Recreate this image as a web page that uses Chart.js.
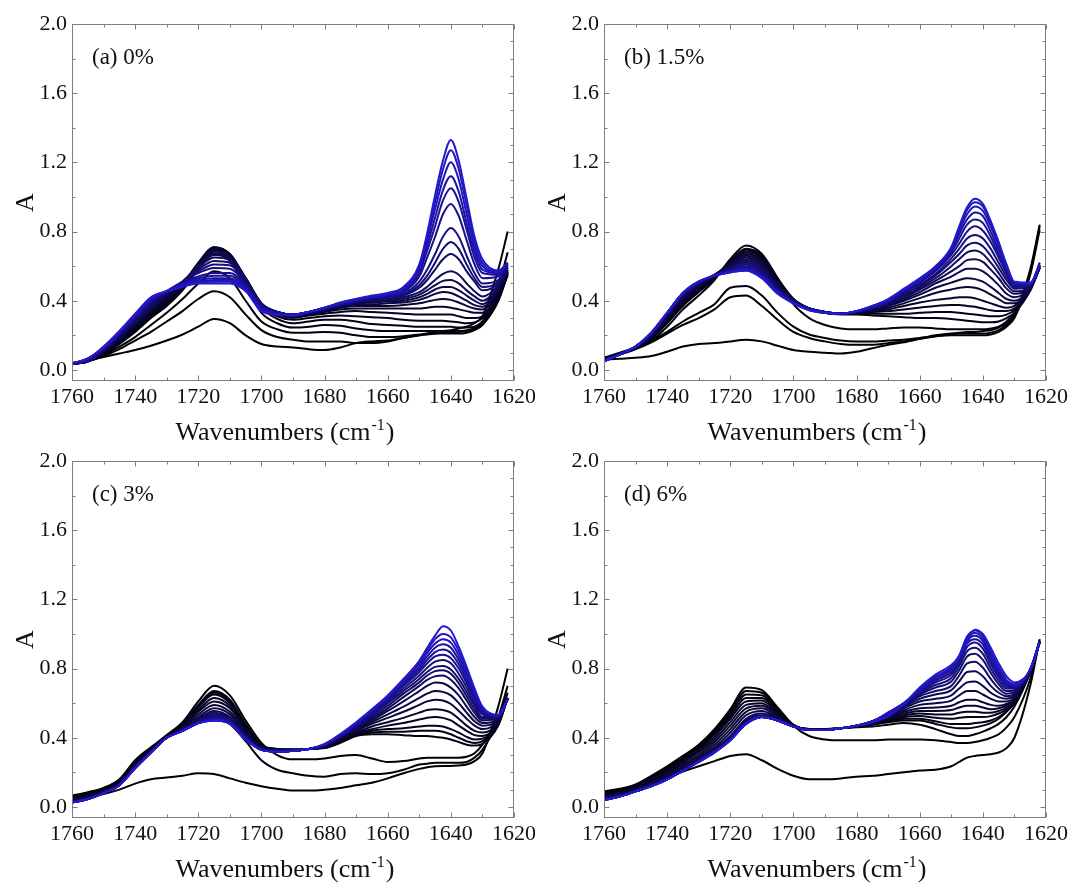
<!DOCTYPE html>
<html><head><meta charset="utf-8">
<script src="https://cdn.jsdelivr.net/npm/chart.js@4.4.1/dist/chart.umd.min.js"></script>
<style>
html,body{margin:0;padding:0;background:#fff;}
body{width:1071px;height:889px;position:relative;overflow:hidden;}
canvas{position:absolute;}
</style></head><body>
<canvas id="pa" width="535" height="445" style="left:0;top:0"></canvas>
<canvas id="pb" width="539" height="445" style="left:532px;top:0"></canvas>
<canvas id="pc" width="535" height="452" style="left:0;top:437px"></canvas>
<canvas id="pd" width="539" height="452" style="left:532px;top:437px"></canvas>
<script>
// ---- data ----
const wavenumbers = [1760,1755,1750,1745,1740,1735,1730,1725,1720,1715,1710,1705,1700,1695,1690,1685,1680,1675,1670,1665,1660,1655,1650,1647.5,1645,1642.5,1640,1637.5,1635,1632.5,1630,1625,1622];
const xTicks = [1760,1740,1720,1700,1680,1660,1640,1620];
const yTicks = [0,0.4,0.8,1.2,1.6,2.0];
const panelLabels = ['(a) 0%','(b) 1.5%','(c) 3%','(d) 6%'];

const spectraA = [
[0.04,0.055,0.075,0.095,0.115,0.14,0.17,0.205,0.25,0.295,0.27,0.20,0.15,0.135,0.13,0.12,0.115,0.13,0.155,0.165,0.17,0.185,0.20,0.21,0.22,0.225,0.23,0.24,0.25,0.27,0.31,0.58,0.80],
[0.035,0.05,0.08,0.12,0.17,0.22,0.28,0.34,0.41,0.455,0.42,0.32,0.23,0.19,0.175,0.165,0.165,0.165,0.155,0.155,0.165,0.185,0.20,0.205,0.21,0.215,0.215,0.22,0.225,0.24,0.28,0.48,0.68],
[0.035,0.05,0.085,0.135,0.19,0.26,0.33,0.41,0.50,0.57,0.53,0.40,0.28,0.235,0.215,0.215,0.22,0.215,0.20,0.19,0.19,0.195,0.205,0.21,0.21,0.21,0.21,0.21,0.215,0.23,0.26,0.40,0.57],
[0.035,0.05,0.09,0.15,0.22,0.30,0.37,0.46,0.58,0.67,0.63,0.48,0.33,0.27,0.245,0.25,0.26,0.255,0.24,0.23,0.225,0.225,0.225,0.225,0.225,0.225,0.225,0.225,0.23,0.24,0.27,0.40,0.55],
[0.035,0.05,0.09,0.155,0.23,0.31,0.38,0.47,0.60,0.70,0.66,0.51,0.36,0.295,0.27,0.28,0.29,0.29,0.28,0.265,0.26,0.255,0.25,0.25,0.25,0.25,0.25,0.245,0.245,0.25,0.28,0.41,0.55],
[0.035,0.05,0.095,0.16,0.235,0.32,0.39,0.48,0.61,0.71,0.67,0.52,0.37,0.31,0.29,0.30,0.31,0.315,0.31,0.305,0.30,0.29,0.285,0.285,0.285,0.285,0.28,0.275,0.27,0.275,0.30,0.42,0.56],
[0.035,0.05,0.10,0.165,0.245,0.33,0.40,0.49,0.62,0.71,0.67,0.53,0.38,0.32,0.30,0.315,0.325,0.335,0.34,0.335,0.33,0.325,0.32,0.32,0.32,0.32,0.32,0.31,0.30,0.30,0.31,0.43,0.56],
[0.035,0.05,0.10,0.17,0.25,0.335,0.41,0.495,0.615,0.70,0.665,0.53,0.38,0.325,0.305,0.32,0.335,0.35,0.355,0.355,0.355,0.355,0.355,0.36,0.365,0.365,0.36,0.35,0.34,0.33,0.33,0.44,0.56],
[0.035,0.05,0.105,0.175,0.26,0.345,0.42,0.50,0.61,0.69,0.66,0.53,0.38,0.33,0.31,0.325,0.34,0.36,0.37,0.37,0.37,0.375,0.385,0.395,0.405,0.41,0.405,0.39,0.37,0.355,0.35,0.45,0.57],
[0.035,0.05,0.105,0.18,0.265,0.35,0.425,0.50,0.605,0.685,0.655,0.53,0.385,0.335,0.315,0.33,0.345,0.365,0.38,0.38,0.385,0.39,0.405,0.42,0.44,0.45,0.445,0.425,0.40,0.375,0.365,0.46,0.57],
[0.035,0.05,0.11,0.185,0.27,0.355,0.43,0.505,0.60,0.675,0.65,0.53,0.385,0.335,0.315,0.33,0.35,0.37,0.385,0.39,0.395,0.40,0.42,0.44,0.465,0.48,0.48,0.46,0.43,0.40,0.38,0.47,0.58],
[0.035,0.05,0.11,0.19,0.275,0.36,0.435,0.51,0.595,0.665,0.645,0.525,0.385,0.335,0.32,0.335,0.355,0.375,0.39,0.395,0.40,0.41,0.435,0.46,0.49,0.515,0.52,0.50,0.46,0.425,0.40,0.48,0.58],
[0.035,0.05,0.115,0.195,0.28,0.37,0.44,0.51,0.59,0.65,0.635,0.52,0.38,0.335,0.32,0.335,0.355,0.375,0.39,0.40,0.405,0.42,0.45,0.48,0.52,0.555,0.57,0.55,0.50,0.455,0.425,0.49,0.59],
[0.035,0.05,0.115,0.20,0.29,0.38,0.445,0.51,0.58,0.63,0.62,0.515,0.38,0.335,0.32,0.335,0.355,0.375,0.395,0.405,0.415,0.43,0.475,0.52,0.58,0.64,0.67,0.64,0.57,0.51,0.46,0.50,0.59],
[0.035,0.05,0.12,0.205,0.295,0.385,0.45,0.51,0.57,0.61,0.605,0.51,0.375,0.335,0.32,0.335,0.355,0.375,0.395,0.41,0.42,0.435,0.49,0.545,0.62,0.70,0.74,0.70,0.61,0.53,0.48,0.51,0.60],
[0.035,0.055,0.12,0.205,0.30,0.39,0.455,0.51,0.56,0.59,0.585,0.50,0.37,0.335,0.32,0.335,0.355,0.38,0.40,0.415,0.425,0.44,0.51,0.58,0.67,0.77,0.82,0.77,0.66,0.56,0.50,0.52,0.60],
[0.035,0.065,0.12,0.21,0.30,0.395,0.455,0.50,0.54,0.56,0.56,0.49,0.365,0.33,0.32,0.335,0.355,0.38,0.40,0.42,0.43,0.45,0.54,0.65,0.77,0.90,0.96,0.89,0.75,0.61,0.53,0.54,0.61],
[0.035,0.065,0.125,0.215,0.305,0.40,0.455,0.50,0.53,0.545,0.545,0.48,0.36,0.33,0.32,0.335,0.36,0.38,0.40,0.42,0.43,0.455,0.56,0.69,0.83,0.98,1.05,0.97,0.81,0.65,0.56,0.55,0.61],
[0.035,0.065,0.125,0.215,0.31,0.405,0.455,0.495,0.52,0.53,0.53,0.47,0.355,0.325,0.32,0.335,0.36,0.385,0.405,0.42,0.435,0.46,0.575,0.72,0.88,1.04,1.12,1.03,0.85,0.68,0.58,0.56,0.61],
[0.035,0.065,0.13,0.22,0.315,0.41,0.455,0.49,0.51,0.52,0.52,0.465,0.35,0.325,0.32,0.335,0.36,0.385,0.405,0.425,0.44,0.465,0.59,0.75,0.93,1.10,1.20,1.10,0.90,0.71,0.60,0.565,0.615],
[0.035,0.065,0.13,0.22,0.32,0.415,0.455,0.485,0.505,0.51,0.51,0.46,0.345,0.32,0.315,0.335,0.36,0.385,0.41,0.425,0.44,0.47,0.60,0.77,0.97,1.16,1.27,1.16,0.95,0.74,0.62,0.57,0.62],
[0.04,0.065,0.135,0.225,0.325,0.42,0.455,0.48,0.50,0.50,0.50,0.455,0.34,0.32,0.315,0.335,0.36,0.39,0.41,0.43,0.445,0.48,0.61,0.79,1.01,1.21,1.33,1.21,0.99,0.77,0.64,0.575,0.62]
];

const spectraB = [
[0.06,0.065,0.07,0.08,0.105,0.135,0.15,0.155,0.165,0.175,0.165,0.14,0.115,0.105,0.10,0.095,0.105,0.125,0.145,0.16,0.18,0.20,0.21,0.215,0.22,0.22,0.225,0.23,0.245,0.27,0.32,0.58,0.84],
[0.06,0.09,0.12,0.16,0.21,0.26,0.30,0.35,0.42,0.43,0.37,0.29,0.22,0.185,0.165,0.15,0.145,0.145,0.155,0.165,0.18,0.195,0.205,0.21,0.21,0.21,0.21,0.215,0.23,0.26,0.31,0.56,0.83],
[0.07,0.10,0.13,0.17,0.22,0.28,0.33,0.38,0.475,0.485,0.43,0.33,0.25,0.205,0.185,0.17,0.165,0.165,0.17,0.175,0.185,0.195,0.20,0.20,0.20,0.20,0.20,0.205,0.22,0.25,0.30,0.55,0.81],
[0.07,0.09,0.12,0.17,0.25,0.35,0.43,0.52,0.64,0.72,0.67,0.53,0.38,0.30,0.26,0.24,0.235,0.235,0.24,0.245,0.245,0.24,0.235,0.235,0.235,0.235,0.235,0.24,0.25,0.28,0.33,0.47,0.62],
[0.07,0.09,0.125,0.18,0.27,0.37,0.45,0.53,0.63,0.70,0.66,0.53,0.41,0.355,0.33,0.32,0.32,0.315,0.31,0.305,0.30,0.30,0.295,0.29,0.285,0.28,0.275,0.275,0.28,0.30,0.33,0.46,0.60],
[0.065,0.09,0.125,0.185,0.28,0.38,0.46,0.535,0.625,0.69,0.65,0.525,0.41,0.355,0.33,0.325,0.325,0.325,0.325,0.325,0.33,0.335,0.335,0.33,0.325,0.32,0.315,0.31,0.31,0.32,0.345,0.46,0.60],
[0.065,0.09,0.13,0.19,0.285,0.39,0.465,0.54,0.62,0.68,0.64,0.52,0.405,0.355,0.33,0.325,0.33,0.335,0.34,0.35,0.36,0.37,0.375,0.375,0.37,0.365,0.355,0.345,0.34,0.34,0.355,0.46,0.59],
[0.06,0.09,0.13,0.195,0.295,0.40,0.475,0.545,0.615,0.67,0.63,0.51,0.405,0.355,0.33,0.325,0.33,0.34,0.35,0.37,0.39,0.405,0.415,0.42,0.42,0.415,0.40,0.385,0.37,0.36,0.37,0.465,0.59],
[0.06,0.09,0.13,0.20,0.30,0.41,0.48,0.55,0.61,0.66,0.62,0.50,0.40,0.355,0.33,0.325,0.335,0.345,0.36,0.385,0.415,0.445,0.465,0.475,0.48,0.475,0.46,0.435,0.41,0.385,0.385,0.47,0.59],
[0.06,0.09,0.13,0.20,0.305,0.415,0.485,0.55,0.605,0.65,0.61,0.495,0.40,0.355,0.335,0.325,0.335,0.35,0.37,0.40,0.435,0.475,0.505,0.52,0.53,0.525,0.51,0.48,0.445,0.41,0.40,0.47,0.59],
[0.055,0.09,0.13,0.205,0.31,0.42,0.49,0.55,0.60,0.64,0.60,0.49,0.40,0.355,0.335,0.325,0.335,0.355,0.375,0.41,0.45,0.50,0.54,0.565,0.585,0.585,0.57,0.535,0.49,0.44,0.42,0.475,0.59],
[0.055,0.09,0.135,0.205,0.315,0.425,0.495,0.55,0.595,0.63,0.59,0.48,0.395,0.355,0.335,0.325,0.335,0.355,0.38,0.42,0.465,0.515,0.57,0.60,0.635,0.64,0.625,0.58,0.53,0.47,0.44,0.48,0.59],
[0.055,0.09,0.135,0.21,0.32,0.43,0.50,0.55,0.59,0.62,0.58,0.475,0.395,0.355,0.335,0.325,0.335,0.36,0.385,0.43,0.475,0.53,0.60,0.64,0.68,0.69,0.67,0.62,0.56,0.495,0.455,0.48,0.59],
[0.055,0.09,0.135,0.21,0.32,0.435,0.50,0.55,0.585,0.61,0.57,0.47,0.395,0.355,0.335,0.325,0.335,0.36,0.39,0.44,0.485,0.545,0.625,0.67,0.72,0.735,0.715,0.66,0.59,0.52,0.47,0.485,0.595],
[0.05,0.09,0.135,0.21,0.325,0.44,0.505,0.545,0.58,0.60,0.56,0.465,0.39,0.35,0.335,0.325,0.335,0.36,0.39,0.45,0.495,0.555,0.645,0.70,0.76,0.78,0.76,0.70,0.62,0.54,0.48,0.49,0.60],
[0.05,0.09,0.135,0.21,0.325,0.44,0.505,0.545,0.575,0.595,0.555,0.46,0.39,0.35,0.335,0.325,0.335,0.365,0.395,0.455,0.505,0.57,0.665,0.73,0.80,0.83,0.805,0.74,0.65,0.56,0.49,0.49,0.60],
[0.05,0.09,0.135,0.215,0.33,0.445,0.51,0.545,0.57,0.59,0.55,0.455,0.39,0.35,0.33,0.325,0.34,0.365,0.40,0.46,0.51,0.58,0.68,0.76,0.84,0.87,0.85,0.77,0.67,0.575,0.495,0.495,0.60],
[0.05,0.09,0.135,0.215,0.33,0.445,0.51,0.545,0.57,0.585,0.545,0.45,0.39,0.35,0.33,0.325,0.34,0.365,0.40,0.46,0.515,0.585,0.69,0.785,0.87,0.91,0.89,0.80,0.695,0.59,0.50,0.50,0.605],
[0.05,0.09,0.135,0.215,0.33,0.445,0.51,0.545,0.565,0.58,0.54,0.45,0.385,0.35,0.33,0.325,0.34,0.37,0.405,0.465,0.52,0.59,0.70,0.805,0.90,0.945,0.92,0.83,0.715,0.60,0.505,0.50,0.605],
[0.05,0.09,0.135,0.215,0.33,0.445,0.51,0.545,0.565,0.575,0.535,0.445,0.385,0.345,0.33,0.325,0.34,0.37,0.405,0.465,0.525,0.595,0.705,0.82,0.925,0.97,0.945,0.85,0.73,0.605,0.505,0.50,0.61],
[0.05,0.09,0.135,0.215,0.33,0.445,0.51,0.545,0.565,0.575,0.53,0.44,0.385,0.345,0.33,0.325,0.34,0.37,0.41,0.47,0.53,0.60,0.71,0.83,0.94,0.99,0.96,0.86,0.74,0.61,0.51,0.505,0.61]
];

const spectraC = [
[0.045,0.06,0.075,0.10,0.135,0.16,0.17,0.18,0.195,0.19,0.165,0.14,0.12,0.105,0.095,0.095,0.10,0.11,0.125,0.14,0.165,0.195,0.22,0.23,0.235,0.237,0.237,0.24,0.245,0.265,0.31,0.58,0.80],
[0.065,0.085,0.11,0.16,0.27,0.345,0.415,0.49,0.61,0.70,0.645,0.50,0.37,0.30,0.275,0.275,0.28,0.295,0.30,0.28,0.26,0.265,0.28,0.285,0.285,0.285,0.285,0.285,0.29,0.31,0.36,0.52,0.70],
[0.06,0.08,0.105,0.15,0.255,0.33,0.40,0.45,0.49,0.52,0.48,0.38,0.27,0.215,0.195,0.18,0.175,0.19,0.195,0.19,0.195,0.215,0.245,0.25,0.255,0.255,0.255,0.255,0.26,0.285,0.33,0.50,0.66],
[0.06,0.08,0.105,0.155,0.26,0.34,0.41,0.48,0.59,0.67,0.62,0.48,0.36,0.335,0.33,0.335,0.34,0.37,0.41,0.42,0.42,0.415,0.41,0.41,0.405,0.40,0.39,0.375,0.36,0.355,0.365,0.47,0.63],
[0.055,0.075,0.10,0.15,0.255,0.335,0.405,0.475,0.58,0.66,0.61,0.47,0.355,0.335,0.33,0.335,0.345,0.375,0.415,0.43,0.435,0.435,0.44,0.44,0.44,0.435,0.42,0.40,0.38,0.37,0.38,0.475,0.63],
[0.05,0.07,0.10,0.145,0.25,0.33,0.405,0.47,0.575,0.65,0.60,0.465,0.35,0.335,0.33,0.335,0.345,0.38,0.42,0.44,0.45,0.455,0.465,0.47,0.47,0.465,0.45,0.43,0.405,0.39,0.395,0.48,0.63],
[0.045,0.065,0.095,0.14,0.245,0.33,0.40,0.465,0.56,0.63,0.585,0.455,0.345,0.33,0.33,0.335,0.345,0.385,0.425,0.45,0.47,0.485,0.505,0.515,0.52,0.515,0.50,0.47,0.44,0.415,0.41,0.485,0.63],
[0.04,0.06,0.09,0.14,0.24,0.325,0.40,0.46,0.55,0.61,0.57,0.445,0.345,0.33,0.33,0.335,0.35,0.39,0.43,0.465,0.49,0.515,0.545,0.56,0.565,0.56,0.545,0.51,0.47,0.44,0.43,0.49,0.63],
[0.035,0.055,0.09,0.135,0.24,0.325,0.40,0.455,0.535,0.59,0.55,0.435,0.34,0.33,0.33,0.335,0.35,0.395,0.44,0.48,0.515,0.55,0.59,0.61,0.62,0.615,0.595,0.555,0.51,0.47,0.45,0.50,0.63],
[0.035,0.055,0.085,0.135,0.235,0.32,0.40,0.45,0.52,0.57,0.535,0.425,0.34,0.33,0.33,0.335,0.35,0.40,0.445,0.49,0.535,0.58,0.63,0.655,0.67,0.665,0.645,0.60,0.545,0.495,0.47,0.505,0.625],
[0.03,0.05,0.085,0.13,0.235,0.32,0.40,0.45,0.51,0.555,0.52,0.42,0.335,0.325,0.325,0.335,0.355,0.40,0.45,0.50,0.555,0.61,0.67,0.70,0.72,0.715,0.69,0.645,0.58,0.52,0.485,0.51,0.625],
[0.03,0.05,0.08,0.13,0.23,0.32,0.40,0.445,0.50,0.545,0.51,0.41,0.335,0.325,0.325,0.335,0.355,0.405,0.455,0.51,0.57,0.635,0.70,0.735,0.755,0.76,0.735,0.685,0.615,0.545,0.50,0.515,0.625],
[0.03,0.05,0.08,0.13,0.23,0.315,0.40,0.445,0.495,0.535,0.505,0.41,0.335,0.325,0.325,0.335,0.355,0.405,0.46,0.52,0.585,0.655,0.72,0.76,0.785,0.79,0.77,0.715,0.64,0.565,0.51,0.515,0.625],
[0.025,0.045,0.08,0.125,0.23,0.315,0.40,0.44,0.49,0.525,0.50,0.405,0.33,0.32,0.325,0.335,0.36,0.41,0.465,0.53,0.60,0.67,0.74,0.78,0.81,0.815,0.795,0.74,0.665,0.585,0.52,0.52,0.625],
[0.025,0.045,0.08,0.125,0.225,0.315,0.40,0.44,0.485,0.52,0.495,0.40,0.33,0.32,0.325,0.335,0.36,0.41,0.47,0.54,0.61,0.685,0.76,0.805,0.84,0.85,0.83,0.77,0.69,0.60,0.535,0.52,0.625],
[0.025,0.045,0.08,0.125,0.225,0.315,0.40,0.44,0.485,0.515,0.49,0.40,0.33,0.32,0.325,0.335,0.36,0.41,0.475,0.545,0.62,0.70,0.78,0.83,0.87,0.88,0.86,0.80,0.715,0.62,0.545,0.525,0.625],
[0.025,0.045,0.08,0.125,0.225,0.315,0.40,0.44,0.485,0.51,0.49,0.395,0.33,0.32,0.325,0.335,0.36,0.415,0.48,0.55,0.625,0.71,0.795,0.85,0.895,0.91,0.89,0.825,0.735,0.635,0.555,0.525,0.625],
[0.025,0.045,0.08,0.125,0.225,0.315,0.40,0.44,0.485,0.505,0.485,0.395,0.33,0.32,0.325,0.335,0.36,0.415,0.48,0.555,0.63,0.72,0.81,0.87,0.92,0.94,0.92,0.85,0.755,0.65,0.565,0.53,0.625],
[0.025,0.045,0.08,0.125,0.225,0.315,0.40,0.44,0.485,0.50,0.485,0.39,0.33,0.32,0.325,0.335,0.36,0.42,0.485,0.56,0.635,0.73,0.825,0.89,0.945,0.97,0.95,0.875,0.77,0.66,0.57,0.53,0.625],
[0.025,0.045,0.08,0.125,0.225,0.315,0.40,0.44,0.485,0.50,0.48,0.39,0.33,0.32,0.325,0.335,0.36,0.42,0.485,0.56,0.64,0.735,0.835,0.905,0.97,1.00,0.98,0.90,0.79,0.67,0.575,0.53,0.62],
[0.025,0.045,0.08,0.125,0.225,0.315,0.40,0.44,0.485,0.50,0.48,0.39,0.33,0.32,0.325,0.335,0.365,0.42,0.49,0.565,0.645,0.74,0.845,0.92,0.99,1.045,1.02,0.925,0.81,0.685,0.58,0.53,0.62]
];

const spectraD = [
[0.065,0.08,0.10,0.13,0.17,0.205,0.235,0.265,0.295,0.305,0.27,0.22,0.18,0.16,0.16,0.165,0.175,0.18,0.19,0.20,0.21,0.215,0.235,0.26,0.285,0.295,0.30,0.305,0.315,0.34,0.40,0.70,0.97],
[0.09,0.105,0.13,0.18,0.235,0.295,0.36,0.45,0.565,0.69,0.675,0.575,0.47,0.41,0.39,0.385,0.385,0.385,0.39,0.39,0.39,0.385,0.375,0.37,0.37,0.375,0.385,0.40,0.42,0.46,0.52,0.74,0.96],
[0.085,0.10,0.125,0.175,0.23,0.29,0.35,0.44,0.55,0.67,0.66,0.57,0.475,0.45,0.45,0.455,0.46,0.465,0.475,0.485,0.475,0.45,0.42,0.41,0.41,0.42,0.435,0.455,0.48,0.52,0.58,0.78,0.96],
[0.085,0.10,0.125,0.17,0.225,0.285,0.345,0.43,0.54,0.65,0.645,0.565,0.475,0.45,0.45,0.455,0.465,0.475,0.49,0.50,0.50,0.48,0.46,0.455,0.455,0.46,0.47,0.485,0.51,0.55,0.60,0.78,0.96],
[0.08,0.095,0.12,0.165,0.215,0.275,0.335,0.42,0.525,0.63,0.63,0.555,0.47,0.45,0.45,0.455,0.465,0.48,0.495,0.51,0.51,0.495,0.48,0.48,0.48,0.485,0.49,0.50,0.52,0.555,0.605,0.78,0.96],
[0.075,0.09,0.115,0.155,0.205,0.265,0.325,0.405,0.51,0.61,0.615,0.545,0.47,0.45,0.45,0.455,0.465,0.48,0.50,0.52,0.525,0.515,0.51,0.515,0.52,0.52,0.52,0.525,0.54,0.565,0.61,0.78,0.96],
[0.07,0.085,0.11,0.15,0.195,0.255,0.315,0.39,0.49,0.59,0.60,0.535,0.47,0.45,0.45,0.455,0.465,0.48,0.505,0.53,0.54,0.535,0.535,0.545,0.55,0.55,0.545,0.545,0.555,0.575,0.615,0.785,0.96],
[0.065,0.08,0.105,0.145,0.19,0.245,0.30,0.375,0.47,0.57,0.585,0.53,0.47,0.45,0.45,0.455,0.465,0.485,0.51,0.54,0.555,0.555,0.56,0.575,0.585,0.585,0.575,0.565,0.57,0.585,0.62,0.785,0.96],
[0.06,0.075,0.10,0.14,0.18,0.235,0.29,0.36,0.45,0.55,0.57,0.52,0.465,0.45,0.45,0.455,0.465,0.485,0.515,0.55,0.57,0.575,0.585,0.605,0.62,0.62,0.605,0.59,0.585,0.595,0.625,0.785,0.96],
[0.055,0.07,0.10,0.135,0.175,0.225,0.28,0.345,0.43,0.53,0.555,0.515,0.465,0.445,0.45,0.455,0.47,0.49,0.52,0.56,0.59,0.60,0.615,0.645,0.67,0.67,0.65,0.625,0.61,0.61,0.635,0.785,0.955],
[0.05,0.07,0.095,0.13,0.17,0.22,0.275,0.335,0.41,0.51,0.54,0.51,0.465,0.445,0.445,0.455,0.47,0.49,0.525,0.57,0.61,0.625,0.645,0.685,0.72,0.725,0.70,0.66,0.635,0.625,0.645,0.79,0.955],
[0.045,0.065,0.095,0.125,0.165,0.215,0.27,0.325,0.40,0.50,0.53,0.505,0.465,0.445,0.445,0.455,0.47,0.49,0.53,0.58,0.625,0.65,0.675,0.725,0.78,0.785,0.755,0.70,0.66,0.64,0.655,0.79,0.955],
[0.045,0.065,0.09,0.12,0.16,0.21,0.265,0.32,0.39,0.49,0.525,0.50,0.465,0.445,0.445,0.455,0.47,0.495,0.535,0.585,0.64,0.67,0.70,0.76,0.83,0.84,0.805,0.74,0.685,0.655,0.665,0.79,0.955],
[0.045,0.065,0.09,0.12,0.16,0.21,0.265,0.32,0.39,0.49,0.525,0.50,0.465,0.445,0.445,0.455,0.47,0.495,0.535,0.59,0.65,0.69,0.725,0.79,0.87,0.885,0.85,0.775,0.71,0.67,0.675,0.795,0.955],
[0.045,0.06,0.09,0.12,0.16,0.21,0.265,0.32,0.39,0.485,0.52,0.50,0.465,0.445,0.445,0.455,0.47,0.495,0.54,0.59,0.66,0.705,0.745,0.815,0.90,0.92,0.885,0.80,0.73,0.685,0.685,0.795,0.955],
[0.04,0.06,0.09,0.12,0.16,0.21,0.265,0.32,0.39,0.485,0.52,0.50,0.465,0.445,0.445,0.455,0.47,0.495,0.54,0.595,0.665,0.72,0.765,0.835,0.925,0.95,0.915,0.825,0.75,0.695,0.69,0.795,0.955],
[0.04,0.06,0.09,0.12,0.16,0.21,0.265,0.32,0.39,0.485,0.52,0.50,0.465,0.445,0.445,0.455,0.47,0.495,0.54,0.595,0.67,0.73,0.78,0.85,0.945,0.97,0.94,0.845,0.765,0.705,0.695,0.795,0.955],
[0.04,0.06,0.09,0.12,0.16,0.21,0.26,0.315,0.385,0.48,0.52,0.50,0.465,0.445,0.445,0.455,0.47,0.495,0.545,0.60,0.675,0.74,0.795,0.86,0.96,0.99,0.96,0.865,0.78,0.715,0.70,0.795,0.95],
[0.04,0.06,0.09,0.12,0.16,0.21,0.26,0.315,0.385,0.48,0.52,0.50,0.465,0.445,0.445,0.455,0.47,0.495,0.545,0.60,0.68,0.75,0.805,0.87,0.975,1.005,0.975,0.885,0.795,0.725,0.705,0.79,0.95],
[0.04,0.06,0.09,0.12,0.16,0.21,0.26,0.315,0.385,0.48,0.52,0.50,0.465,0.445,0.445,0.455,0.47,0.495,0.545,0.60,0.685,0.755,0.81,0.875,0.985,1.02,0.99,0.90,0.81,0.735,0.71,0.79,0.95],
[0.04,0.06,0.09,0.12,0.16,0.21,0.26,0.315,0.385,0.48,0.52,0.50,0.465,0.445,0.445,0.455,0.47,0.49,0.525,0.595,0.69,0.765,0.82,0.87,0.95,1.025,1.00,0.92,0.83,0.755,0.72,0.79,0.95]
];

// ---- drawing ----
const SERIF = '"Liberation Serif", "Times New Roman", serif';
function curveColor(k, n) {
  const t = Math.pow(k / (n - 1), 1.4);
  return 'rgb(' + Math.round(36 * t) + ',' + Math.round(24 * t) + ',' + Math.round(205 * t) + ')';
}

const decoPlugin = {
  id: 'deco',
  afterDraw(chart, args, opts) {
    const ctx = chart.ctx, ca = chart.chartArea, xs = chart.scales.x, ys = chart.scales.y;
    ctx.save();
    const L = Math.round(ca.left) + 0.5, R = Math.round(ca.right) - 0.5;
    const T = Math.round(ca.top) + 0.5, B = Math.round(ca.bottom) - 0.5;
    ctx.strokeStyle = '#7d7d7d';
    ctx.lineWidth = 1;
    ctx.strokeRect(L, T, R - L, B - T);
    ctx.beginPath();
    for (let i = 0; i < xTicks.length; i++) {
      const w0 = xTicks[i];
      const px = Math.round(xs.getPixelForValue(w0)) + 0.5;
      ctx.moveTo(px, B); ctx.lineTo(px, B - 5);
      ctx.moveTo(px, T); ctx.lineTo(px, T + 5);
      if (i < xTicks.length - 1) {
        const pm = Math.round(xs.getPixelForValue((w0 + xTicks[i + 1]) / 2)) + 0.5;
        ctx.moveTo(pm, B); ctx.lineTo(pm, B - 3);
        ctx.moveTo(pm, T); ctx.lineTo(pm, T + 3);
      }
    }
    for (let i = 0; i < yTicks.length; i++) {
      const v0 = yTicks[i];
      const py = Math.round(ys.getPixelForValue(v0)) + 0.5;
      ctx.moveTo(L, py); ctx.lineTo(L + 5, py);
      ctx.moveTo(R, py); ctx.lineTo(R - 5, py);
      if (i < yTicks.length - 1) {
        const step = (yTicks[i + 1] - v0) / 4;
        for (let j = 1; j < 4; j++) {
          const pm = Math.round(ys.getPixelForValue(v0 + step * j)) + 0.5;
          if (j === 2) { ctx.moveTo(L, pm); ctx.lineTo(L + 3, pm); }
          ctx.moveTo(R, pm); ctx.lineTo(R - 3, pm);
        }
      }
    }
    ctx.stroke();

    ctx.fillStyle = '#111';
    // panel label
    ctx.font = '23px ' + SERIF;
    ctx.textAlign = 'left';
    ctx.textBaseline = 'alphabetic';
    ctx.fillText(opts.label, ca.left + 20, ca.top + 40);

    // x title with superscript
    const mainTxt = 'Wavenumbers (cm', supTxt = '-1', endTxt = ')';
    const mainFont = '26px ' + SERIF, supFont = '16px ' + SERIF;
    ctx.font = mainFont; const w1 = ctx.measureText(mainTxt).width; const w3 = ctx.measureText(endTxt).width;
    ctx.font = supFont; const w2 = ctx.measureText(supTxt).width;
    const total = w1 + w2 + w3 + 2;
    let sx = (ca.left + ca.right) / 2 - 8 - total / 2;
    const by = ca.bottom + 59;
    ctx.font = mainFont; ctx.fillText(mainTxt, sx, by);
    ctx.font = supFont; ctx.fillText(supTxt, sx + w1 + 1, by - 10);
    ctx.font = mainFont; ctx.fillText(endTxt, sx + w1 + w2 + 2, by);

    // y title
    ctx.translate(ca.left - 46, (ca.top + ca.bottom) / 2);
    ctx.rotate(-Math.PI / 2);
    ctx.textAlign = 'center';
    ctx.textBaseline = 'middle';
    ctx.font = '26px ' + SERIF;
    ctx.fillText('A', 0, 0);
    ctx.restore();
  }
};

function makePanel(id, spectra, label) {
  const canvas = document.getElementById(id);
  const W = canvas.width, H = canvas.height;
  const n = spectra.length;
  const datasets = spectra.map((arr, k) => ({
    data: wavenumbers.map((w, i) => ({ x: w, y: arr[i] })),
    borderColor: curveColor(k, n),
    borderWidth: 2,
    pointRadius: 0,
    fill: false,
    cubicInterpolationMode: 'monotone',
    order: n - k
  }));
  new Chart(canvas, {
    type: 'line',
    data: { datasets },
    options: {
      responsive: false,
      animation: false,
      devicePixelRatio: 1,
      layout: { padding: { top: 24, right: W - 514, left: 0, bottom: 0 } },
      plugins: { legend: { display: false }, tooltip: { enabled: false }, deco: { label } },
      scales: {
        x: {
          type: 'linear', reverse: true, min: 1620, max: 1760,
          grid: { display: false, drawTicks: false }, border: { display: false },
          afterBuildTicks: s => { s.ticks = xTicks.map(v => ({ value: v })); },
          afterFit: s => { s.height = H - 381; s.paddingLeft = 0; s.paddingRight = 0; },
          ticks: { font: { family: SERIF, size: 22 }, color: '#111', padding: 3, maxRotation: 0, autoSkip: false,
                   callback: v => String(v) }
        },
        y: {
          type: 'linear', min: -0.064, max: 2.0,
          grid: { display: false, drawTicks: false }, border: { display: false },
          afterBuildTicks: s => { s.ticks = yTicks.map(v => ({ value: v })); },
          afterFit: s => { s.width = 72; s.paddingTop = 0; s.paddingBottom = 0; },
          ticks: { font: { family: SERIF, size: 22 }, color: '#111', padding: 5,
                   callback: v => Number(v).toFixed(1) }
        }
      }
    },
    plugins: [decoPlugin]
  });
}

makePanel('pa', spectraA, panelLabels[0]);
makePanel('pb', spectraB, panelLabels[1]);
makePanel('pc', spectraC, panelLabels[2]);
makePanel('pd', spectraD, panelLabels[3]);
</script>
</body></html>
